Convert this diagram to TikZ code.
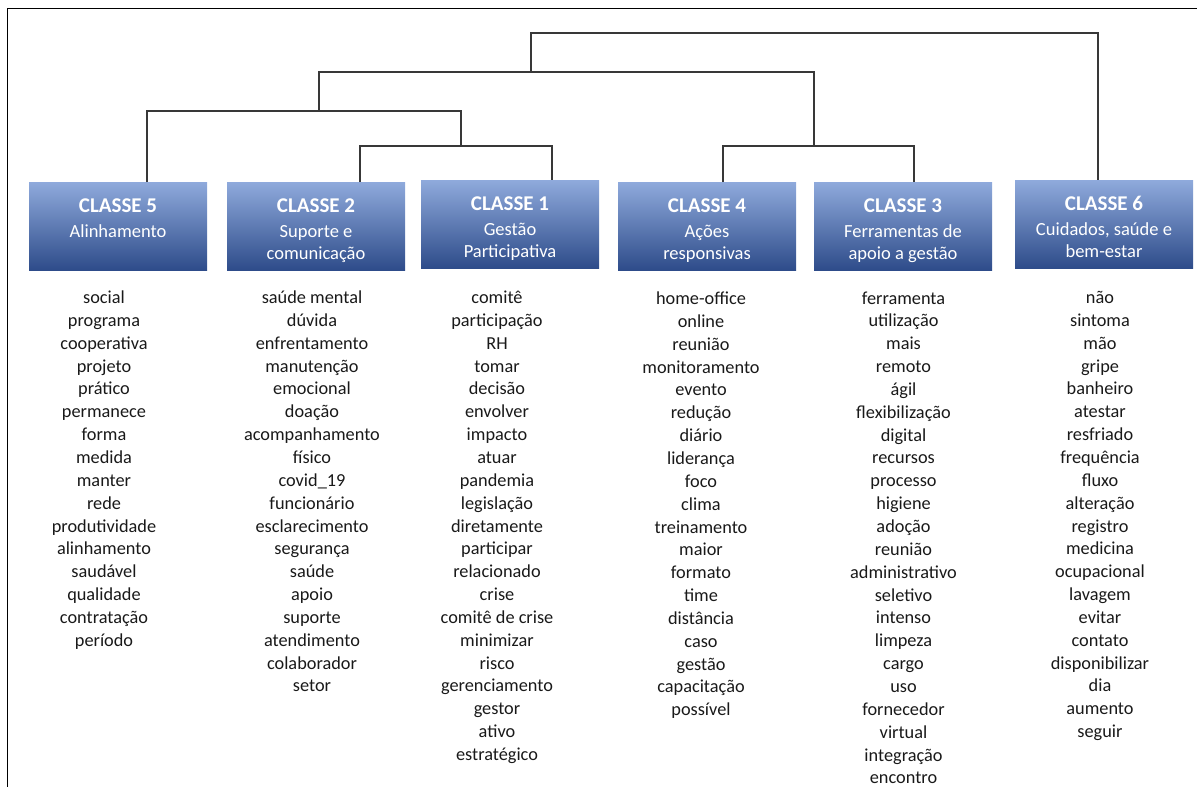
\documentclass[tikz,border=0pt]{standalone}
\usepackage{fontspec}
\setmainfont{Carlito}
\begin{document}
\begin{tikzpicture}[x=1pt,y=-1pt,
  box/.style={rectangle, minimum width=178pt, minimum height=88pt, inner sep=0pt, draw=none,
    top color=boxtop, middle color=boxmid, bottom color=boxbot},
  ttl/.style={anchor=base, inner sep=0pt, text=white, font=\fontsize{21}{25}\selectfont\bfseries},
  sub/.style={anchor=base, inner sep=0pt, text=white, font=\fontsize{18.5}{22}\selectfont},
  word/.style={anchor=base, inner sep=0pt, text=black!90, font=\fontsize{18.3}{22}\selectfont},
  dendro/.style={draw=black!78, line width=1.1pt},
  frame/.style={draw=black, line width=1pt}]
\definecolor{boxtop}{RGB}{143,170,220}
\definecolor{boxmid}{RGB}{72,115,198}
\definecolor{boxbot}{RGB}{46,76,138}
\useasboundingbox (0,0) rectangle (1197,787);

% frame
\coordinate (frbl) at (7.5,787);
\coordinate (frtl) at (7.5,8.3);
\coordinate (frtr) at (1197,8.3);
\draw[frame] (frbl) -- (frtl) -- (frtr);

% boxes
\node[box] (b5) at (118,226) {};
\node[box] (b2) at (316,226) {};
\node[box] (b1) at (510,224) {};
\node[box] (b4) at (707,226) {};
\node[box] (b3) at (903,226) {};
\node[box] (b6) at (1104,224) {};

% titles
\node[ttl] (t5) at (118,212) {CLASSE 5};
\node[ttl] (t2) at (316,212) {CLASSE 2};
\node[ttl] (t1) at (510,210) {CLASSE 1};
\node[ttl] (t4) at (707,212) {CLASSE 4};
\node[ttl] (t3) at (903,212) {CLASSE 3};
\node[ttl] (t6) at (1104,210) {CLASSE 6};

% subtitles
\node[sub] (s5a) at (118,237) {Alinhamento};
\node[sub] (s2a) at (316,237) {Suporte e};
\node[sub] (s2b) at (316,259) {comunicação};
\node[sub] (s1a) at (510,235) {Gestão};
\node[sub] (s1b) at (510,257) {Participativa};
\node[sub] (s4a) at (707,237) {Ações};
\node[sub] (s4b) at (707,259) {responsivas};
\node[sub] (s3a) at (903,237) {Ferramentas de};
\node[sub] (s3b) at (903,259) {apoio a gestão};
\node[sub] (s6a) at (1104,235) {Cuidados, saúde e};
\node[sub] (s6b) at (1104,257) {bem-estar};

% dendrogram anchor points on the boxes
\coordinate (j5) at (147,182);
\coordinate (j2) at (360,182);
\coordinate (j1) at (552,180);
\coordinate (j4) at (723,182);
\coordinate (j3) at (914,182);
\coordinate (j6) at (1098,180);
\coordinate (m21) at (461,146);
\coordinate (m521) at (319,111);
\coordinate (m43) at (814,146);
\coordinate (m5214) at (531,72);
\coordinate (mroot) at (531,33);

\draw[dendro] (j2) |- (m21) -| (j1);
\draw[dendro] (j5) |- (m521) -| (m21);
\draw[dendro] (j4) |- (m43) -| (j3);
\draw[dendro] (m521) |- (m5214) -| (m43);
\draw[dendro] (m5214) -- (mroot) -| (j6);

% word lists
\foreach \w [count=\i from 0] in {social, programa, cooperativa, projeto, prático, permanece, forma, medida, manter, rede, produtividade, alinhamento, saudável, qualidade, contratação, período}
  \node[word] (w5-\i) at (104,303.5+22.85*\i) {\w};
\foreach \w [count=\i from 0] in {saúde mental, dúvida, enfrentamento, manutenção, emocional, doação, acompanhamento, físico, {covid\_19}, funcionário, esclarecimento, segurança, saúde, apoio, suporte, atendimento, colaborador, setor}
  \node[word] (w2-\i) at (312,303.5+22.85*\i) {\w};
\foreach \w [count=\i from 0] in {comitê, participação, RH, tomar, decisão, envolver, impacto, atuar, pandemia, legislação, diretamente, participar, relacionado, crise, comitê de crise, minimizar, risco, gerenciamento, gestor, ativo, estratégico}
  \node[word] (w1-\i) at (497,303.5+22.85*\i) {\w};
\foreach \w [count=\i from 0] in {home-office, online, reunião, monitoramento, evento, redução, diário, liderança, foco, clima, treinamento, maior, formato, time, distância, caso, gestão, capacitação, possível}
  \node[word] (w4-\i) at (701,304.5+22.85*\i) {\w};
\foreach \w [count=\i from 0] in {ferramenta, utilização, mais, remoto, ágil, flexibilização, digital, recursos, processo, higiene, adoção, reunião, administrativo, seletivo, intenso, limpeza, cargo, uso, fornecedor, virtual, integração, encontro}
  \node[word] (w3-\i) at (903.5,304+22.85*\i) {\w};
\foreach \w [count=\i from 0] in {não, sintoma, mão, gripe, banheiro, atestar, resfriado, frequência, fluxo, alteração, registro, medicina, ocupacional, lavagem, evitar, contato, disponibilizar, dia, aumento, seguir}
  \node[word] (w6-\i) at (1100,303.5+22.85*\i) {\w};
\end{tikzpicture}
\end{document}
